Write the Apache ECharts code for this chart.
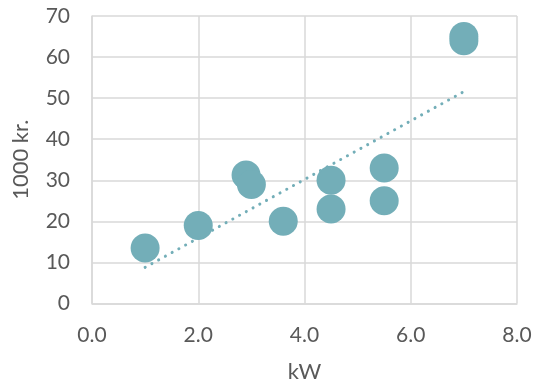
<!DOCTYPE html>
<html>
<head>
<meta charset="utf-8">
<script src="https://cdn.jsdelivr.net/npm/echarts@6/dist/echarts.min.js"></script>
<style>html,body{margin:0;padding:0;background:#fff}#c{width:537px;height:385px}</style>
</head>
<body>
<div id="c"></div>
<script>
const kW = [1.0, 2.0, 2.9, 3.0, 3.6, 4.5, 4.5, 5.5, 5.5, 7.0, 7.0];
const price = [13.5, 19.0, 31.3, 29.0, 20.0, 30.0, 23.0, 33.0, 25.0, 64.0, 65.0];
const trendX = [1.0, 7.0];
const trendY = [8.8, 51.6];
const xTicks = { min: 0, max: 8, interval: 2 };
const yTicks = { min: 0, max: 70, interval: 10 };

const color = '#73AEB8';
const gridColor = '#D9D9D9';
const textColor = '#595959';
const font = 'Lato, "Open Sans", sans-serif';

const chart = echarts.init(document.getElementById('c'), null, { renderer: 'canvas' });
chart.setOption({
  animation: false,
  grid: { left: 92, right: 20, top: 16, bottom: 81.5, containLabel: false, outerBoundsMode: 'none' },
  xAxis: {
    type: 'value', min: xTicks.min, max: xTicks.max, interval: xTicks.interval,
    name: 'kW', nameLocation: 'middle', nameGap: 57,
    nameTextStyle: { color: textColor, fontSize: 22, fontFamily: font },
    axisLine: { show: true, lineStyle: { color: gridColor, width: 1.5 } },
    axisTick: { show: false },
    splitLine: { show: true, lineStyle: { color: gridColor, width: 1.5 } },
    axisLabel: { color: textColor, fontSize: 21, fontFamily: font, margin: 21,
      formatter: v => v.toFixed(1) }
  },
  yAxis: {
    type: 'value', min: yTicks.min, max: yTicks.max, interval: yTicks.interval,
    name: '1000 kr.', nameLocation: 'middle', nameGap: 60,
    nameTextStyle: { color: textColor, fontSize: 22, fontFamily: font },
    axisLine: { show: true, lineStyle: { color: gridColor, width: 1.5 } },
    axisTick: { show: false },
    splitLine: { show: true, lineStyle: { color: gridColor, width: 1.5 } },
    axisLabel: { color: textColor, fontSize: 21, fontFamily: font, margin: 22 }
  },
  series: [
    {
      type: 'scatter',
      data: kW.map((x, i) => [x, price[i]]),
      symbolSize: 29,
      itemStyle: { color: color, opacity: 1 },
      z: 2
    },
    {
      type: 'line',
      data: trendX.map((x, i) => [x, trendY[i]]),
      showSymbol: false, symbol: 'none',
      lineStyle: { color: color, width: 3, type: [0.1, 7.6], cap: 'round' },
      z: 3
    }
  ]
});
</script>
</body>
</html>
